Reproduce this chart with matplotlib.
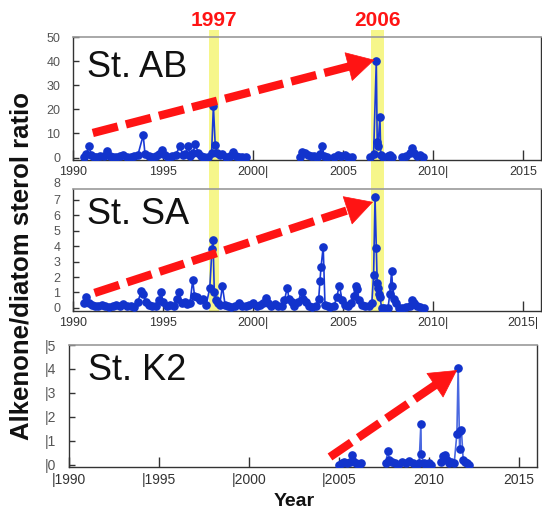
import numpy as np
import matplotlib
matplotlib.use('Agg')
import matplotlib.pyplot as plt
from matplotlib.patches import Rectangle
from matplotlib.transforms import blended_transform_factory

plt.rcParams['font.family'] = ['Liberation Sans', 'DejaVu Sans']

nan = np.nan

# St. AB  (nan = gap in the record)
ab_year = [1990.6, 1990.75, 1990.9, 1991.0, 1991.15, 1991.3, 1991.5, 1991.7, 1991.9, 1992.05,
           1992.2, 1992.4, 1992.6, 1992.8, 1993.0, 1993.2, 1993.4, 1993.6, 1993.9, 1994.0,
           1994.2, 1994.4, 1994.6, 1994.8, 1994.95, 1995.1, 1995.3, 1995.5, 1995.7, 1995.95,
           1996.1, 1996.25, 1996.4, 1996.5, 1996.65, 1996.8, 1996.95, 1997.1, 1997.3, 1997.5,
           1997.7, 1997.8, 1997.9, 1998.0, 1998.15, 1998.3, 1998.5, 1998.7, 1998.9, 1999.05,
           1999.2, 1999.4, 1999.6, 2001.0,
           2002.6, 2002.75, 2002.9, 2003.05, 2003.2, 2003.4, 2003.55, 2003.7, 2003.85, 2003.95,
           2004.1, 2004.3,
           2004.5, 2004.7, 2004.9, 2005.1, 2005.3, 2005.5, 2006.0,
           2006.5, 2006.7, 2006.85, 2006.9, 2006.95, 2007.05, 2007.1, 2007.2, 2007.35,
           2007.5, 2007.6, 2007.7, 2008.0,
           2008.3, 2008.5, 2008.7, 2008.85, 2008.95, 2009.1, 2009.3, 2009.45]
ab_val = [0.3, 1.5, 4.7, 1.2, 0.3, 0.2, 0.5, 0.8, 2.8, 0.6,
          0.2, 0.3, 0.5, 1.2, 0.4, 0.3, 0.8, 1.0, 9.2, 1.5,
          0.5, 0.4, 0.8, 1.5, 3.2, 1.0, 0.4, 0.6, 1.2, 4.8,
          1.0, 1.5, 4.8, 0.8, 1.8, 5.6, 2.0, 0.8, 0.3, 0.4,
          2.0, 21.5, 5.2, 2.0, 1.0, 1.5, 0.4, 0.6, 2.2, 0.8,
          0.3, 0.2, 0.1, nan,
          0.3, 2.2, 1.8, 1.0, 0.5, 0.8, 0.3, 1.5, 4.8, 0.5,
          0.2, nan,
          0.3, 1.0, 0.6, 1.2, 0.4, 0.2, nan,
          0.3, 1.5, 40.0, 6.5, 5.0, 17.0, 1.0, 0.2, nan,
          0.5, 1.2, 0.3, nan,
          0.2, 0.8, 2.0, 4.0, 2.0, 0.5, 1.2, 0.2]

# St. SA
sa_year = [1990.6, 1990.75, 1990.9, 1991.05, 1991.2, 1991.4, 1991.6, 1991.8, 1992.0, 1992.2,
           1992.4, 1992.6, 1992.8, 1993.0, 1993.2, 1993.4, 1993.6, 1993.8, 1993.9, 1994.05,
           1994.2, 1994.4, 1994.6, 1994.8, 1994.9, 1995.0, 1995.2, 1995.4, 1995.6, 1995.8,
           1995.9, 1996.05, 1996.2, 1996.35, 1996.5, 1996.65, 1996.75, 1996.9, 1997.05, 1997.2,
           1997.4, 1997.6, 1997.72, 1997.78, 1997.85, 1997.95, 1998.05, 1998.15, 1998.3, 1998.45,
           1998.6, 1998.8, 1999.0, 1999.2, 1999.4, 1999.6, 1999.8, 2000.0, 2000.2, 2000.4,
           2000.55, 2000.7, 2000.85, 2001.0, 2001.2, 2001.4, 2001.6, 2001.75, 2001.9, 2002.0,
           2002.15, 2002.3, 2002.5, 2002.7, 2002.8, 2002.95, 2003.1, 2003.3, 2003.5, 2003.65,
           2003.72, 2003.78, 2003.9, 2004.0, 2004.15, 2004.3, 2004.5, 2004.65, 2004.8, 2004.95,
           2005.1, 2005.3, 2005.45, 2005.6, 2005.7, 2005.8, 2005.9, 2006.05, 2006.25, 2006.45,
           2006.6, 2006.7, 2006.78, 2006.85, 2006.9, 2006.95, 2007.0, 2007.05, 2007.15, 2007.3,
           2007.5, 2007.6, 2007.7, 2007.75, 2007.85, 2007.95, 2008.1, 2008.3, 2008.5, 2008.7,
           2008.85, 2008.95, 2009.1, 2009.3, 2009.5]
sa_val = [0.3, 0.7, 0.35, 0.2, 0.15, 0.1, 0.2, 0.1, 0.05, 0.1,
          0.2, 0.1, 0.25, 0.1, 0.15, 0.05, 0.4, 1.1, 0.9, 0.4,
          0.2, 0.1, 0.15, 0.5, 1.0, 0.4, 0.1, 0.2, 0.15, 0.6,
          1.0, 0.3, 0.4, 0.25, 0.3, 1.8, 0.8, 0.7, 0.5, 0.6,
          0.2, 1.3, 3.8, 4.4, 1.0, 0.5, 0.3, 0.2, 1.4, 0.2,
          0.1, 0.05, 0.1, 0.3, 0.15, 0.1, 0.2, 0.35, 0.1, 0.2,
          0.3, 0.65, 0.3, 0.1, 0.25, 0.15, 0.1, 0.5, 1.3, 0.6,
          0.4, 0.1, 0.4, 1.05, 0.6, 0.4, 0.15, 0.05, 0.1, 0.6,
          1.75, 2.65, 3.95, 0.2, 0.1, 0.05, 0.1, 0.7, 1.45, 0.5,
          0.2, 0.1, 0.3, 0.8, 1.45, 1.2, 0.5, 0.2, 0.1, 0.15,
          0.3, 2.15, 7.15, 3.9, 1.6, 1.3, 0.9, 0.7, 0.0, 0.0,
          0.0, 0.9, 2.4, 1.45, 0.6, 0.3, 0.0, 0.0, 0.05, 0.1,
          0.5, 0.3, 0.1, 0.05, 0.0]

# St. K2
k2_year = [2005.0, 2005.15, 2005.3, 2005.45, 2005.6, 2005.7, 2005.8, 2005.95, 2006.1, 2006.25, 2007.0,
           2007.6, 2007.7, 2007.8, 2007.95, 2008.1, 2008.3, 2008.5, 2008.7, 2008.9, 2009.1,
           2009.3, 2009.45, 2009.55, 2009.57, 2009.7, 2009.85, 2009.9,
           2010.0, 2010.1, 2010.3,
           2010.65, 2010.8, 2010.9, 2011.0, 2011.1, 2011.25, 2011.4, 2011.55, 2011.62, 2011.7,
           2011.75, 2011.8, 2011.9, 2012.0, 2012.1, 2012.25]
k2_val = [0.0, 0.05, 0.1, 0.05, 0.1, 0.4, 0.15, 0.05, 0.0, 0.05, nan,
          0.05, 0.55, 0.2, 0.1, 0.05, 0.0, 0.1, 0.05, 0.15, 0.05,
          0.0, 0.05, 1.7, 0.45, 0.05, 0.0, nan,
          0.05, 0.0, nan,
          0.1, 0.35, 0.4, 0.2, 0.05, 0.1, 0.05, 1.3, 4.05, 0.65,
          1.4, 1.45, 0.2, 0.1, 0.05, 0.0]

# highlighted years
band_label = ['1997', '2006']
band_start = [1997.56, 2006.56]
band_end = [1998.11, 2007.28]

# red arrows: (start, tip)
ab_arrow = [(1991.1, 10.2), (2006.75, 40.5)]
sa_arrow = [(1991.2, 0.97), (2006.67, 6.86)]
k2_arrow = [(2004.5, 0.32), (2011.56, 3.95)]

year_ticks = [1990, 1995, 2000, 2005, 2010, 2015]
ab_xlabels = ['1990', '1995', '2000|', '2005', '2010|', '2015']
sa_xlabels = ['1990', '1995', '2000|', '2005', '2010|', '2015|']
k2_xlabels = ['|1990', '|1995', '|2000', '|2005', '2010', '2015']

ab_yticks = [0, 10, 20, 30, 40, 50]
sa_yticks = [0, 1, 2, 3, 4, 5, 6, 7]
k2_yticks = [0, 1, 2, 3, 4, 5]
k2_ylabels = ['|0', '|1', '|2', '|3', '|4', '|5']

W, H = 542, 511
fig = plt.figure(figsize=(W / 100, H / 100), dpi=100)

def px_axes(left, top, right, bottom):
    return fig.add_axes([left / W, 1 - bottom / H, (right - left) / W, (bottom - top) / H])

ax1 = px_axes(73, 37, 541, 160)
ax2 = px_axes(73, 189, 541, 311)
ax3 = px_axes(69, 345, 537, 467)

RED = '#ff1414'


def red_arrow(ax, start, tip, head_px=26):
    # dashed shaft up to the head base, then a solid head
    p0 = ax.transData.transform(start)
    p1 = ax.transData.transform(tip)
    u = (p1 - p0) / np.hypot(*(p1 - p0))
    base = ax.transData.inverted().transform(p1 - u * head_px)
    ax.plot([start[0], base[0]], [start[1], base[1]], color=RED, lw=6,
            ls=(0, (3.1, 1.0)), dash_capstyle='butt', zorder=4)
    ax.annotate('', xy=tip, xytext=base,
                arrowprops=dict(arrowstyle='-|>,head_length=1.0,head_width=0.55',
                                mutation_scale=head_px * 0.72, lw=0.5,
                                color=RED, shrinkA=0, shrinkB=0),
                zorder=4)


def draw_panel(ax, years, vals, ylim, yticks, ylabels, xlabels, name, name_pos, arrow, lc, xfs):
    ax.set_facecolor('none')
    ax.plot(years, vals, '-', color=lc, lw=1.2, marker='o', ms=5.2,
            mfc='#1233cc', mec='#1233cc', zorder=3)
    ax.set_xlim(1990, 2016)
    ax.set_ylim(*ylim)
    ax.set_xticks(year_ticks)
    ax.set_xticklabels(xlabels, fontsize=xfs, color='#333333')
    ax.set_yticks(yticks)
    ax.set_yticklabels(ylabels, fontsize=xfs, color='#555555')
    ax.tick_params(axis='x', direction='in', length=7, width=1, color='#333333', pad=4)
    ax.tick_params(axis='y', direction='in', length=4, width=1, color='#333333', pad=9)
    for s in ['left', 'bottom', 'right']:
        ax.spines[s].set_color('#333333')
        ax.spines[s].set_linewidth(1.0)
    ax.spines['top'].set_color('#999999')
    ax.spines['top'].set_linewidth(1.2)
    ax.text(name_pos[0], name_pos[1], name, transform=ax.transAxes, fontsize=26,
            color='#111111', ha='left', va='center', zorder=5)
    red_arrow(ax, arrow[0], arrow[1])


draw_panel(ax1, ab_year, ab_val, (-1, 50), ab_yticks, [str(t) for t in ab_yticks],
           ab_xlabels, 'St. AB', (0.03, 0.756), ab_arrow, '#1a3ad6', 9)
draw_panel(ax2, sa_year, sa_val, (-0.2, 7.7), sa_yticks, [str(t) for t in sa_yticks],
           sa_xlabels, 'St. SA', (0.03, 0.787), sa_arrow, '#1a3ad6', 9)
draw_panel(ax3, k2_year, k2_val, (-0.1, 5.0), k2_yticks, k2_ylabels,
           k2_xlabels, 'St. K2', (0.041, 0.79), k2_arrow, '#4a68e0', 10)

# top tick label of St. SA sits above the frame
ax2.text(-0.028, 8, '8', transform=blended_transform_factory(ax2.transAxes, ax2.transData),
         ha='right', va='center', fontsize=9, color='#555555', clip_on=False)

# yellow bands through St. AB and St. SA
band_tr = blended_transform_factory(ax1.transData, fig.transFigure)
y_bot = 1 - 311 / H
y_top = 1 - 30 / H
for lab, x0, x1 in zip(band_label, band_start, band_end):
    fig.add_artist(Rectangle((x0, y_bot), x1 - x0, y_top - y_bot, transform=band_tr,
                             facecolor='#f6f68a', edgecolor='none', zorder=-1))
    fig.text((x0 + x1) / 2, 1 - 21 / H, lab, transform=band_tr, ha='center', va='center',
             fontsize=15, fontweight='bold', color=RED)

fig.text(22 / W, 1 - 266 / H, 'Alkenone/diatom sterol ratio', rotation=90, ha='center',
         va='center', fontsize=18.5, fontweight='bold', color='#111111')
fig.text(294 / W, 1 - 502 / H, 'Year', ha='center', va='center', fontsize=14,
         fontweight='bold', color='#111111')

fig.savefig('out.png', dpi=100, facecolor='white')
